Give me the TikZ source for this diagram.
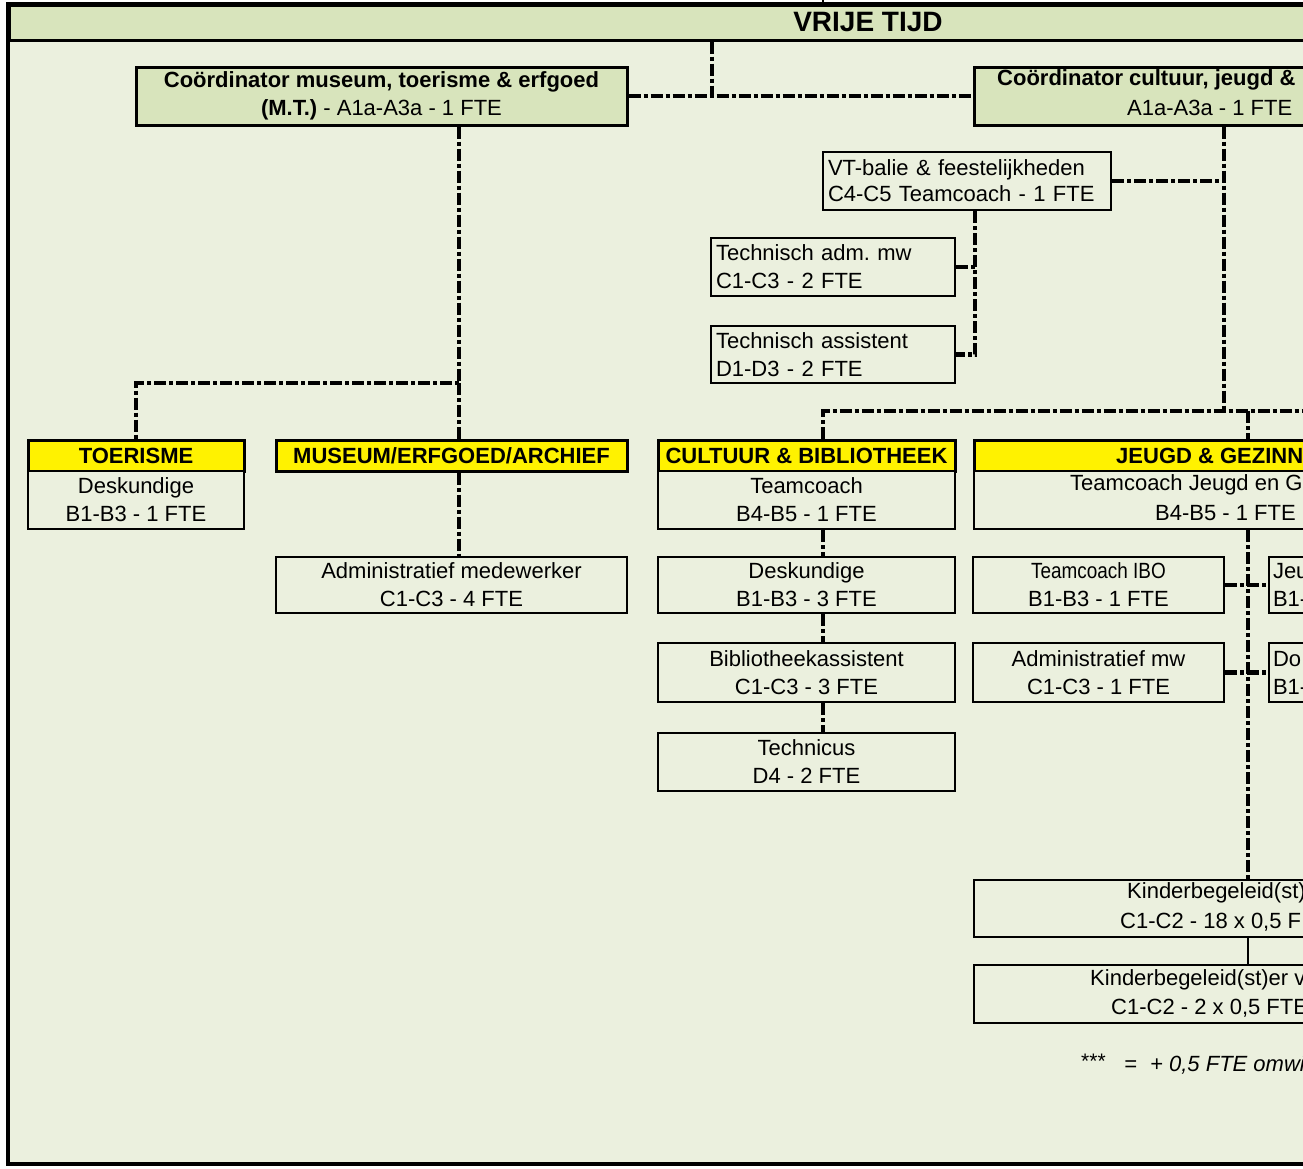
\documentclass[tikz,border=0pt]{standalone}
\usepackage{fontspec}
\setmainfont{Liberation Sans}
\usetikzlibrary{positioning}
\definecolor{bgc}{HTML}{EBF0DE}
\definecolor{greenc}{HTML}{D8E4BC}

\tikzset{
  every node/.style={inner sep=0pt, font=\fontsize{22}{28}\selectfont},
  box/.style={draw, line width=2pt, fill=bgc, align=center},
  coordbox/.style={draw, line width=3pt, fill=greenc, align=center},
  headbox/.style={draw, line width=3pt, fill=yellow, font=\fontsize{22}{28}\selectfont\bfseries, minimum height=31pt},
  linkline/.style={line width=4.5pt, dash pattern=on 12pt off 3pt on 4pt off 3pt},
}

\begin{document}
\begin{tikzpicture}[x=1pt,y=-1pt]
            \useasboundingbox (0,0) rectangle (1303,1168);
            \clip (0,0) rectangle (1303,1168);
            \fill[bgc] (8,4) rectangle (1400,1164);
            \node[draw, line width=2.5pt, fill=greenc, anchor=north west, minimum width=1400pt, minimum height=35pt] (hdr) at (8,4) {};
            \node[font=\fontsize{28}{30}\selectfont\bfseries] (title) at (868,22) {VRIJE TIJD};
            \draw[line width=3.5pt] (1400,4) -- (8,4) -- (8,1164) -- (1400,1164);

            % coordinators
            \node[coordbox, minimum width=491pt, minimum height=58pt] (coordmt) at (381.5,96) {\textbf{Coördinator museum, toerisme \& erfgoed}\\\textbf{(M.T.)} - A1a-A3a - 1 FTE};
            \node[coordbox, anchor=west, minimum width=600pt, minimum height=58pt] (coordcj) at (973,96) {};
            \node[anchor=west, font=\fontsize{22}{28}\selectfont\bfseries] (coordcja) at (997,80) {Coördinator cultuur, jeugd \&};
            \node[anchor=west] (coordcjb) at (1127,108) {A1a-A3a - 1 FTE};

            \node[box, font=\fontsize{22}{26}\selectfont, text width=278pt, inner xsep=5pt, align=left, minimum height=58pt] (vtb) at (967,181) {VT-balie \& feestelijkheden\\C4-C5 Teamcoach - 1 FTE};
            \node[box, text width=234pt, inner xsep=5pt, align=left, minimum height=58pt] (tadm) at (833,267) {Technisch adm.\ mw\\C1-C3 - 2 FTE};
            \node[box, text width=234pt, inner xsep=5pt, align=left, minimum height=57pt] (tass) at (833,354.5) {Technisch assistent\\D1-D3 - 2 FTE};

            % toerisme en museum
            \node[headbox, minimum width=216pt] (toer) at (136,455.5) {TOERISME};
            \node[box, minimum width=216pt, minimum height=58pt] (toerd) at (136,500) {Deskundige\\B1-B3 - 1 FTE};
            \node[headbox, minimum width=351pt] (mus) at (451.5,455.5) {MUSEUM/ERFGOED/ARCHIEF};
            \node[box, minimum width=351pt, minimum height=56pt] (adm) at (451.5,585) {Administratief medewerker\\C1-C3 - 4 FTE};

            % cultuur
            \node[headbox, minimum width=297pt] (cult) at (806.5,455.5) {CULTUUR \& BIBLIOTHEEK};
            \node[box, minimum width=297pt, minimum height=58pt] (cteam) at (806.5,500) {Teamcoach\\B4-B5 - 1 FTE};
            \node[box, minimum width=297pt, minimum height=56pt] (cdesk) at (806.5,585) {Deskundige\\B1-B3 - 3 FTE};
            \node[box, minimum width=297pt, minimum height=59pt] (cbib) at (806.5,672.5) {Bibliotheekassistent\\C1-C3 - 3 FTE};
            \node[box, minimum width=297pt, minimum height=58pt] (ctech) at (806.5,762) {Technicus\\D4 - 2 FTE};

            % jeugd
            \node[headbox, anchor=west, minimum width=600pt] (jeugd) at (973,455.5) {};
            \node[anchor=west, font=\fontsize{22}{28}\selectfont\bfseries] (jeugdl) at (1116,455.5) {JEUGD \& GEZINN};
            \node[box, anchor=west, minimum width=600pt, minimum height=58pt] (jteam) at (973,500) {};
            \node[anchor=west] (jteama) at (1070,485) {Teamcoach Jeugd en G};
            \node[anchor=west] (jteamb) at (1155,513) {B4-B5 - 1 FTE};
            \node[box, minimum width=251pt, minimum height=56pt] (ibo) at (1098.5,585) {\scalebox{0.86}[1]{Teamcoach IBO}\\B1-B3 - 1 FTE};
            \node[box, minimum width=251pt, minimum height=59pt] (admw) at (1098.5,672.5) {Administratief mw\\C1-C3 - 1 FTE};
            \node[box, anchor=west, text width=192pt, inner xsep=4pt, align=left, minimum height=56pt] (jeu) at (1268,585) {Jeu\\B1-};
            \node[box, anchor=west, text width=192pt, inner xsep=4pt, align=left, minimum height=59pt] (do) at (1268,672.5) {Do\\B1-};
            \node[box, anchor=west, minimum width=600pt, minimum height=57pt] (kind1) at (973,908.5) {};
            \node[anchor=west] (kind1a) at (1127,893) {Kinderbegeleid(st)};
            \node[anchor=west] (kind1b) at (1120,922) {C1-C2 - 18 x 0,5 F};
            \node[box, anchor=west, minimum width=600pt, minimum height=58pt] (kind2) at (973,994) {};
            \node[anchor=west] (kind2a) at (1090,980) {Kinderbegeleid(st)er v};
            \node[anchor=west] (kind2b) at (1111,1008) {C1-C2 - 2 x 0,5 FTE};
            \node[anchor=west, font=\fontsize{21}{22}\selectfont] (notea) at (1081,1061) {***};
            \node[anchor=west, font=\fontsize{22}{26}\selectfont\itshape] (noteb) at (1124,1065) {=\kern7pt\ + 0,5 FTE omwi};

            % lijnen
            \coordinate (j0) at (712,96);
            \coordinate (j1) at (459,383);
            \coordinate (j2) at (1224,411);
            \coordinate (j3) at (823,411);
            \coordinate (j4) at (1248,411);
            \coordinate (j5) at (975,354.5);
            \coordinate (jr) at (1320,411);
            \coordinate (topin) at (823,-10);

            \draw[line width=2pt] (topin) -- (topin |- hdr.north);
            \draw[linkline] (hdr.south -| j0) -- (j0);
            \draw[linkline] (coordmt.east) -- (coordcj.west);
            \draw[linkline] (coordmt.south -| j1) -- (j1) -| (toer.north);
            \draw[linkline] (j1) -- (j1 |- mus.north);
            \draw[linkline] (mus.south -| j1) -- (j1 |- adm.north);
            \draw[linkline] (coordcj.south -| j2) -- (j2);
            \draw[linkline] (vtb.east) -- (vtb.east -| j2);
            \draw[linkline] (vtb.south -| j5) -- (j5) -- (tass.east);
            \draw[linkline] (tadm.east) -- (tadm.east -| j5);
            \draw[linkline] (j3 |- cult.north) -- (j3) -- (jr);
            \draw[linkline] (j4) -- (j4 |- jeugd.north);
            \draw[linkline] (cteam.south -| j3) -- (cdesk.north -| j3);
            \draw[linkline] (cdesk.south -| j3) -- (cbib.north -| j3);
            \draw[linkline] (cbib.south -| j3) -- (ctech.north -| j3);
            \draw[linkline] (jteam.south -| j4) -- (kind1.north -| j4);
            \draw[linkline] (ibo.east) -- (jeu.west);
            \draw[linkline] (admw.east) -- (do.west);
            \draw[line width=1.5pt] (kind1.south -| j4) -- (kind2.north -| j4);
\end{tikzpicture}
\end{document}
